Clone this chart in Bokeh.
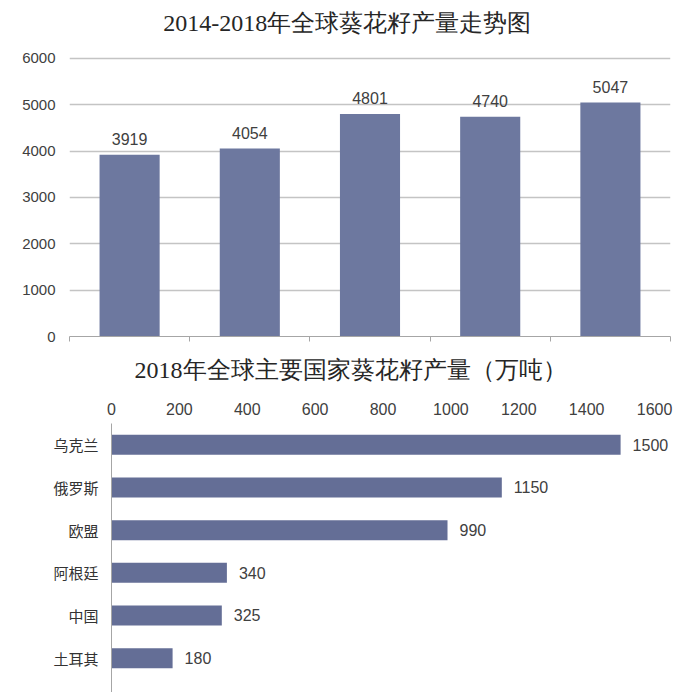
from bokeh.plotting import figure
from bokeh.models import Range1d, FixedTicker, LabelSet, Label, ColumnDataSource, Title
from bokeh.core.properties import value
from bokeh.embed import file_html
from bokeh.resources import INLINE

# ---------------- data ----------------
years = ["2014", "2015", "2016", "2017", "2018"]
world_output = [3919, 4054, 4801, 4740, 5047]
y_ticks = [0, 1000, 2000, 3000, 4000, 5000, 6000]
title1 = "2014-2018年全球葵花籽产量走势图"

countries = ["乌克兰", "俄罗斯", "欧盟", "阿根廷", "中国", "土耳其"]
country_output = [1500, 1150, 990, 340, 325, 180]
x_ticks = [0, 200, 400, 600, 800, 1000, 1200, 1400, 1600]
title2 = "2018年全球主要国家葵花籽产量（万吨）"

# ---------------- styles ----------------
W = 700
TITLE_FONT = "Liberation Serif"
NUM_FONT = "Liberation Sans"
CJK_FONT = "Noto Sans CJK SC"
BAR1 = "#6d789f"
BAR2 = "#646e96"
TXT = "#404040"

# ---------------- top chart ----------------
n1 = len(years)
src1 = ColumnDataSource(dict(
    x=[i + 0.5 for i in range(n1)],
    v=world_output,
    label=[str(v) for v in world_output],
))

# the value range runs above 6000 so the title sits inside the frame
p1 = figure(width=W, height=396, output_backend="svg", toolbar_location=None,
            x_range=Range1d(0, n1), y_range=Range1d(0, 7247),
            min_border_left=69, min_border_right=30, min_border_top=0,
            min_border_bottom=0)
p1.outline_line_color = None

p1.add_layout(Label(x=0.78, y=6753, text=title1, text_align="left",
                    text_baseline="middle", text_font=TITLE_FONT,
                    text_font_size="24px", text_color="#262626"))

p1.vbar(x="x", top="v", width=0.5, source=src1, fill_color=BAR1, line_color=None)
p1.add_layout(LabelSet(x="x", y="v", text="label", source=src1, y_offset=10,
                       text_align="center", text_baseline="alphabetic",
                       text_font=value(NUM_FONT), text_font_size=value("16px"),
                       text_color=TXT))

xa = p1.xaxis[0]
xa.ticker = FixedTicker(ticks=list(range(n1 + 1)))
xa.major_label_text_font_size = "0px"
xa.major_label_text_color = None
xa.major_label_standoff = 0
xa.major_tick_out = 5
xa.major_tick_in = 0
xa.minor_tick_line_color = None
xa.axis_line_color = "#a6a6a6"
xa.major_tick_line_color = "#a6a6a6"

ya = p1.yaxis[0]
ya.ticker = FixedTicker(ticks=y_ticks)
ya.axis_line_color = None
ya.major_tick_line_color = None
ya.minor_tick_line_color = None
ya.major_tick_out = 0
ya.major_tick_in = 0
ya.major_label_standoff = 14
ya.major_label_text_font = NUM_FONT
ya.major_label_text_font_size = "15px"
ya.major_label_text_color = TXT

p1.xgrid.visible = False
p1.ygrid.ticker = FixedTicker(ticks=y_ticks)
p1.ygrid.grid_line_color = "#c4c4c4"
p1.ygrid.grid_line_width = 1.3

# title of the second chart, placed under the first chart's axis
p1.add_layout(Title(text=title2, align="left", offset=65, standoff=27,
                    text_font=TITLE_FONT, text_font_size="24px",
                    text_font_style="normal", text_color="#262626"), "below")

# ---------------- bottom chart ----------------
n2 = len(countries)
ypos = [n2 - 1 - i for i in range(n2)]
src2 = ColumnDataSource(dict(
    y=ypos,
    v=country_output,
    label=[str(v) for v in country_output],
))

p2 = figure(width=W, height=296, output_backend="svg", toolbar_location=None,
            x_range=Range1d(0, 1647), y_range=Range1d(-0.805, n2 - 0.5),
            x_axis_location="above",
            min_border_left=111, min_border_right=30, min_border_top=27,
            min_border_bottom=0)
p2.outline_line_color = None

p2.hbar(y="y", right="v", left=0, height=0.47, source=src2,
        fill_color=BAR2, line_color=None)
p2.add_layout(LabelSet(x="v", y="y", text="label", source=src2, x_offset=12,
                       text_align="left", text_baseline="middle",
                       text_font=value(NUM_FONT), text_font_size=value("16px"),
                       text_color=TXT))

xb = p2.xaxis[0]
xb.ticker = FixedTicker(ticks=x_ticks)
xb.axis_line_color = None
xb.major_tick_line_color = None
xb.minor_tick_line_color = None
xb.major_tick_out = 0
xb.major_tick_in = 0
xb.major_label_standoff = 9
xb.major_label_text_font = NUM_FONT
xb.major_label_text_font_size = "16px"
xb.major_label_text_color = TXT

yb = p2.yaxis[0]
yb.ticker = FixedTicker(ticks=ypos)
yb.major_label_overrides = {p: c for p, c in zip(ypos, countries)}
yb.axis_line_color = "#a6a6a6"
yb.major_tick_line_color = None
yb.minor_tick_line_color = None
yb.major_tick_out = 0
yb.major_tick_in = 0
yb.major_label_standoff = 13
yb.major_label_text_font = CJK_FONT
yb.major_label_text_font_size = "15px"
yb.major_label_text_color = "#333333"

p2.xgrid.visible = False
p2.ygrid.visible = False

open("out.html", "w").write(file_html([p1, p2], INLINE))
